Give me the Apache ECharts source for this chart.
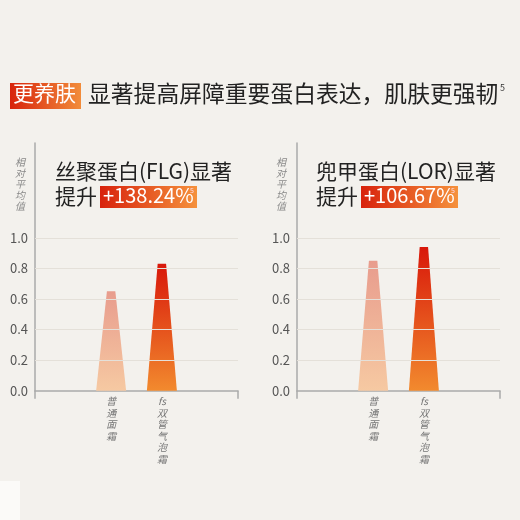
<!DOCTYPE html>
<html>
<head>
<meta charset="utf-8">
<script src="https://cdn.jsdelivr.net/npm/echarts@6/dist/echarts.min.js"></script>
<style>
  html, body { margin: 0; padding: 0; background: #f3f1ed; }
  #main { width: 520px; height: 520px; }
</style>
</head>
<body>
<div id="main"></div>
<script>
// 数据
var categories = ['', '普通面霜', 'fs双管气泡霜', ''];
var flgValues = ['-', 0.65, 0.83, '-'];
var lorValues = ['-', 0.85, 0.94, '-'];
var yTicks = [0.2, 0.4, 0.6, 0.8, 1.0];
var flgTitle = '丝聚蛋白(FLG)显著';
var lorTitle = '兜甲蛋白(LOR)显著';
var flgRise = '+138.24%';
var lorRise = '+106.67%';

var font = '"Noto Sans CJK SC", "Noto Sans", sans-serif';
var chart = echarts.init(document.getElementById('main'));

function grad(c1, c2, vertical) {
    return new echarts.graphic.LinearGradient(0, 0, vertical ? 0 : 1, vertical ? 1 : 0, [
        { offset: 0, color: c1 }, { offset: 1, color: c2 }
    ]);
}

//竖排文字
function vert(s) {
    var parts = s.match(/[A-Za-z]+|./g) || [];
    return parts.join('\n');
}

function xAxisOf(idx) {
    return {
        type: 'category', gridIndex: idx, data: categories,
        axisLine: { lineStyle: { color: '#aaa', width: 1.5 } },
        axisTick: { show: true, length: 8, interval: function (i) { return i === 0; }, lineStyle: { color: '#aaa', width: 1.5 } },
        axisLabel: {
            formatter: function (v) { return vert(v); },
            color: '#777', fontSize: 10, lineHeight: 11.5, fontStyle: 'italic',
            fontFamily: font, margin: 5, verticalAlign: 'top', interval: 0
        }
    };
}

function yAxisOf(idx) {
    return {
        type: 'value', gridIndex: idx, min: 0, max: 1.62, interval: 0.2,
        axisLine: { show: true, lineStyle: { color: '#aaa', width: 1.5 } },
        axisTick: { show: false },
        splitLine: { show: false },
        axisLabel: {
            formatter: function (v) { return v <= 1.0001 ? v.toFixed(1) : ''; },
            color: '#555', fontSize: 13, fontFamily: font, margin: 7
        }
    };
}

function barSeries(idx, values) {
    var styles = [
        null,
        grad('#e89c8d', '#f6c9a2', true),
        grad('#d8170a', '#f28a2e', true),
        null
    ];
    return {
        type: 'pictorialBar', xAxisIndex: idx, yAxisIndex: idx,
        symbol: 'path://M0,100 L36,0 L64,0 L100,100 Z',
        symbolSize: [30, '100%'],
        data: values.map(function (v, i) {
            return { value: v, itemStyle: { color: styles[i] || '#ccc' } };
        }),
        markLine: {
            silent: true, symbol: 'none', label: { show: false },
            lineStyle: { color: '#e4e0d9', type: 'solid', width: 1 },
            data: yTicks.map(function (t) { return { yAxis: t }; })
        },
        z: 3
    };
}

function titleBlock(x, title, rise) {
    return [
        { type: 'text', left: x, top: 161, style: { text: title, fill: '#222', font: '21px ' + font } },
        { type: 'text', left: x, top: 186, style: { text: '提升', fill: '#222', font: '21px ' + font } },
        { type: 'rect', left: x + 45, top: 186, shape: { width: 97, height: 22 }, style: { fill: grad('#d8220c', '#f5913c') } },
        { type: 'text', left: x + 48, top: 185, style: { text: rise, fill: '#fff', font: '20px ' + font } },
        { type: 'text', left: x + 135, top: 187, style: { text: '5', fill: '#fde', font: '7px ' + font } }
    ];
}

function axisName(x) {
    return { type: 'text', left: x, top: 157, style: { text: vert('相对平均值'), fill: '#8a8a8a', font: 'italic 10px ' + font, lineHeight: 11, align: 'center' } };
}

var graphics = [
    { type: 'rect', left: 10, top: 83, shape: { width: 71, height: 26 }, style: { fill: grad('#d8240c', '#f28c3a') } },
    { type: 'text', left: 13, top: 83, style: { text: '更养肤', fill: '#fff', font: '21px ' + font } },
    { type: 'text', left: 88, top: 82, style: { text: '显著提高屏障重要蛋白表达，肌肤更强韧', fill: '#222', font: '22.8px ' + font } },
    { type: 'text', left: 500, top: 83, style: { text: '5', fill: '#333', font: '9px ' + font } },
    axisName(15), axisName(276),
    { type: 'rect', left: 0, top: 481, shape: { width: 20, height: 39 }, style: { fill: '#fbfaf8' } }
].concat(titleBlock(55, flgTitle, flgRise)).concat(titleBlock(316, lorTitle, lorRise));

chart.setOption({
    backgroundColor: '#f3f1ed',
    animation: false,
    grid: [
        { left: 35, top: 143, width: 203, height: 247.7 },
        { left: 297, top: 143, width: 203, height: 247.7 }
    ],
    xAxis: [xAxisOf(0), xAxisOf(1)],
    yAxis: [yAxisOf(0), yAxisOf(1)],
    series: [barSeries(0, flgValues), barSeries(1, lorValues)],
    graphic: graphics
});
</script>
</body>
</html>
